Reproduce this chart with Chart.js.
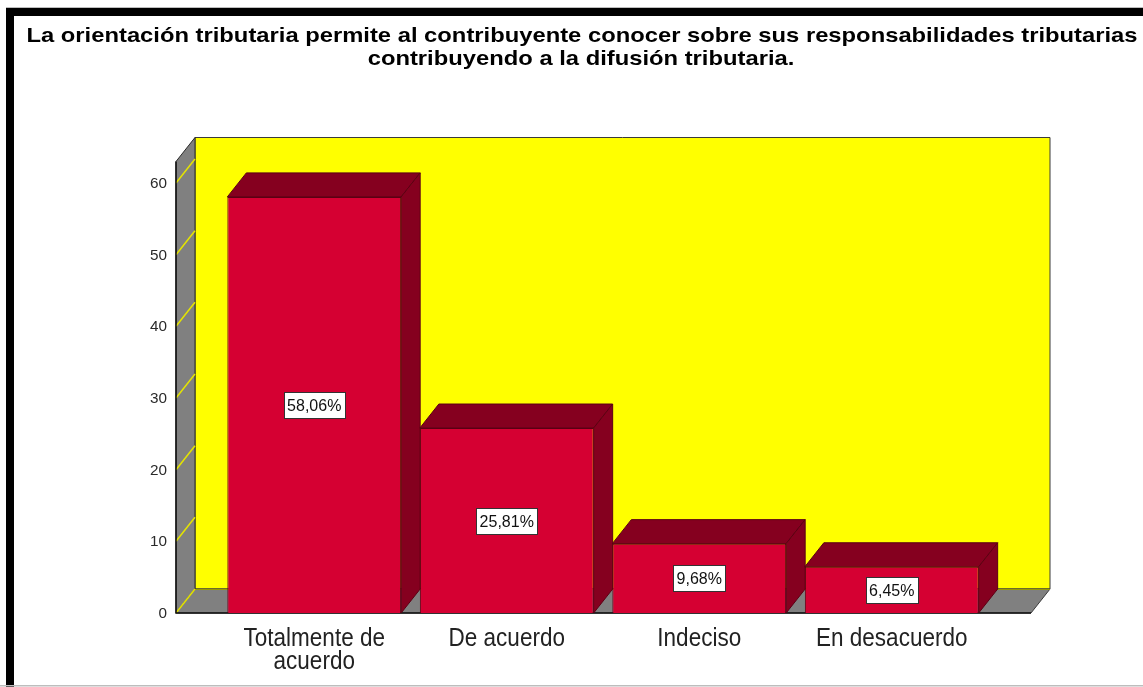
<!DOCTYPE html>
<html>
<head>
<meta charset="utf-8">
<title>Orientación tributaria</title>
<script src="https://cdn.jsdelivr.net/npm/chart.js@4.4.1/dist/chart.umd.min.js"></script>
<style>
    html, body { margin: 0; padding: 0; background: #fff; }
    #wrap { width: 1143px; height: 687px; position: relative; }
</style>
</head>
<body>
<div id="wrap"><canvas id="chart" width="1143" height="687"></canvas></div>
<script>
// Data
const categories = [['Totalmente de', 'acuerdo'], ['De acuerdo'], ['Indeciso'], ['En desacuerdo']];
const percentValues = [58.06, 25.81, 9.68, 6.45];
const percentLabels = ['58,06%', '25,81%', '9,68%', '6,45%'];
const yTicks = [0, 10, 20, 30, 40, 50, 60];
const titleLines = [
    'La orientación tributaria permite al contribuyente conocer sobre sus responsabilidades tributarias',
    'contribuyendo a la difusión tributaria.'
];

const FONT = "'Liberation Sans', Arial, sans-serif";
const DX = 19, DY = 24;           // depth of the 3D box
const RED = '#d50032', DARK = '#85001f';

// text drawn with a stretch, the original picture is not scaled evenly
function drawText(ctx, text, x, y, size, weight, sx, sy, align) {
    ctx.save();
    ctx.font = `${weight} ${size}px ${FONT}`;
    ctx.textAlign = align || 'center';
    ctx.textBaseline = 'alphabetic';
    ctx.translate(x, y);
    ctx.scale(sx, sy);
    ctx.fillText(text, 0, 0);
    ctx.restore();
}

function poly(ctx, pts, fill, stroke) {
    ctx.beginPath();
    ctx.moveTo(pts[0][0], pts[0][1]);
    for (let i = 1; i < pts.length; i++) ctx.lineTo(pts[i][0], pts[i][1]);
    ctx.closePath();
    if (fill) { ctx.fillStyle = fill; ctx.fill(); }
    if (stroke) { ctx.strokeStyle = stroke; ctx.lineWidth = 1; ctx.stroke(); }
}

const box3d = {
    id: 'box3d',
    beforeDatasetsDraw(chart) {
        const { ctx, chartArea: a, scales: { y } } = chart;
        const x0 = a.left - 42, x1 = a.right + 43;
        const yTop = a.top, yBot = y.getPixelForValue(0);
        ctx.save();
        // back wall
        poly(ctx, [[x0 + DX, yTop - DY], [x1 + DX, yTop - DY], [x1 + DX, yBot - DY], [x0 + DX, yBot - DY]], '#ffff00', '#3a3a3a');
        // left wall
        poly(ctx, [[x0, yTop], [x0 + DX, yTop - DY], [x0 + DX, yBot - DY], [x0, yBot]], '#808080', '#2a2a2a');
        // floor
        poly(ctx, [[x0, yBot], [x0 + DX, yBot - DY], [x1 + DX, yBot - DY], [x1, yBot]], '#808080', '#3a3a3a');
        // wall/floor seam
        ctx.strokeStyle = '#9a9a00';
        ctx.beginPath();
        ctx.moveTo(x0 + DX, yBot - DY + 0.5);
        ctx.lineTo(x1 + DX, yBot - DY + 0.5);
        ctx.stroke();
        // grid on the side wall
        ctx.strokeStyle = '#e4e400';
        ctx.lineWidth = 1.5;
        yTicks.forEach(v => {
            const py = y.getPixelForValue(v);
            ctx.beginPath();
            ctx.moveTo(x0, py);
            ctx.lineTo(x0 + DX, py - DY);
            ctx.stroke();
        });
        // front axis lines
        ctx.strokeStyle = '#111';
        ctx.lineWidth = 1.5;
        ctx.beginPath();
        ctx.moveTo(x0, yTop);
        ctx.lineTo(x0, yBot);
        ctx.lineTo(x1, yBot);
        ctx.stroke();
        ctx.restore();
    },
    afterDatasetsDraw(chart) {
        const { ctx, chartArea: a, scales: { x, y } } = chart;
        const x0 = a.left - 42;
        ctx.save();
        const meta = chart.getDatasetMeta(0);
        meta.data.forEach((bar, i) => {
            const p = bar.getProps(['x', 'y', 'base', 'width'], true);
            const l = p.x - p.width / 2, r = p.x + p.width / 2;
            poly(ctx, [[l, p.y], [l + DX, p.y - DY], [r + DX, p.y - DY], [r, p.y]], DARK, '#5c0014');
            poly(ctx, [[r, p.y], [r + DX, p.y - DY], [r + DX, p.base - DY], [r, p.base]], DARK, '#5c0014');
        });
        // value boxes
        meta.data.forEach((bar, i) => {
            const p = bar.getProps(['x', 'y', 'base'], true);
            const cy = (p.y + p.base) / 2;
            ctx.font = `16px ${FONT}`;
            const w = ctx.measureText(percentLabels[i]).width + 7;
            const h = 26;
            ctx.fillStyle = '#fff';
            ctx.fillRect(Math.round(p.x - w / 2) + 0.5, Math.round(cy - h / 2) + 0.5, Math.round(w), h);
            ctx.strokeStyle = '#333';
            ctx.lineWidth = 1;
            ctx.strokeRect(Math.round(p.x - w / 2) + 0.5, Math.round(cy - h / 2) + 0.5, Math.round(w), h);
            ctx.fillStyle = '#111';
            drawText(ctx, percentLabels[i], p.x, cy + 6, 16, 'normal', 1, 1.05);
        });
        // y tick labels
        ctx.fillStyle = '#2a2a2a';
        yTicks.forEach(v => {
            drawText(ctx, String(v), x0 - 9, y.getPixelForValue(v) + 5, 15, 'normal', 1.02, 1, 'right');
        });
        // category labels
        ctx.fillStyle = '#222';
        categories.forEach((lines, i) => {
            const cx = x.getPixelForValue(i);
            lines.forEach((t, j) => {
                drawText(ctx, t, cx, y.getPixelForValue(0) + 33 + j * 23, 22.5, 'normal', 1, 1.12);
            });
        });
        ctx.restore();
    },
    afterDraw(chart) {
        const { ctx, width, height } = chart;
        ctx.save();
        // title
        ctx.fillStyle = '#000';
        ctx.font = `bold 21px ${FONT}`;
        const sx = 1111 / ctx.measureText(titleLines[0]).width;
        drawText(ctx, titleLines[0], 582, 42, 21, 'bold', sx, 1);
        drawText(ctx, titleLines[1], 581, 65, 21, 'bold', sx, 1);
        // frame
        ctx.fillStyle = '#000';
        ctx.fillRect(6, 8, width - 6, 8);
        ctx.fillRect(6, 8, 8, height - 8);
        ctx.fillStyle = '#bdbdbd';
        ctx.fillRect(6, 7, width - 6, 1);
        ctx.fillRect(0, height - 2, width, 1.5);
        ctx.restore();
    }
};

new Chart(document.getElementById('chart'), {
    type: 'bar',
    data: {
        labels: categories,
        datasets: [{
            data: percentValues,
            backgroundColor: RED,
            borderColor: '#5c0014',
            borderWidth: 1,
            barPercentage: 0.903,
            categoryPercentage: 1
        }]
    },
    options: {
        responsive: false,
        animation: false,
        devicePixelRatio: 1,
        layout: { padding: { left: 218, right: 155, top: 161.5, bottom: 74 } },
        plugins: { legend: { display: false }, tooltip: { enabled: false }, title: { display: false } },
        scales: {
            x: { display: false },
            y: { display: false, min: 0, max: 63 }
        }
    },
    plugins: [box3d]
});
</script>
</body>
</html>
